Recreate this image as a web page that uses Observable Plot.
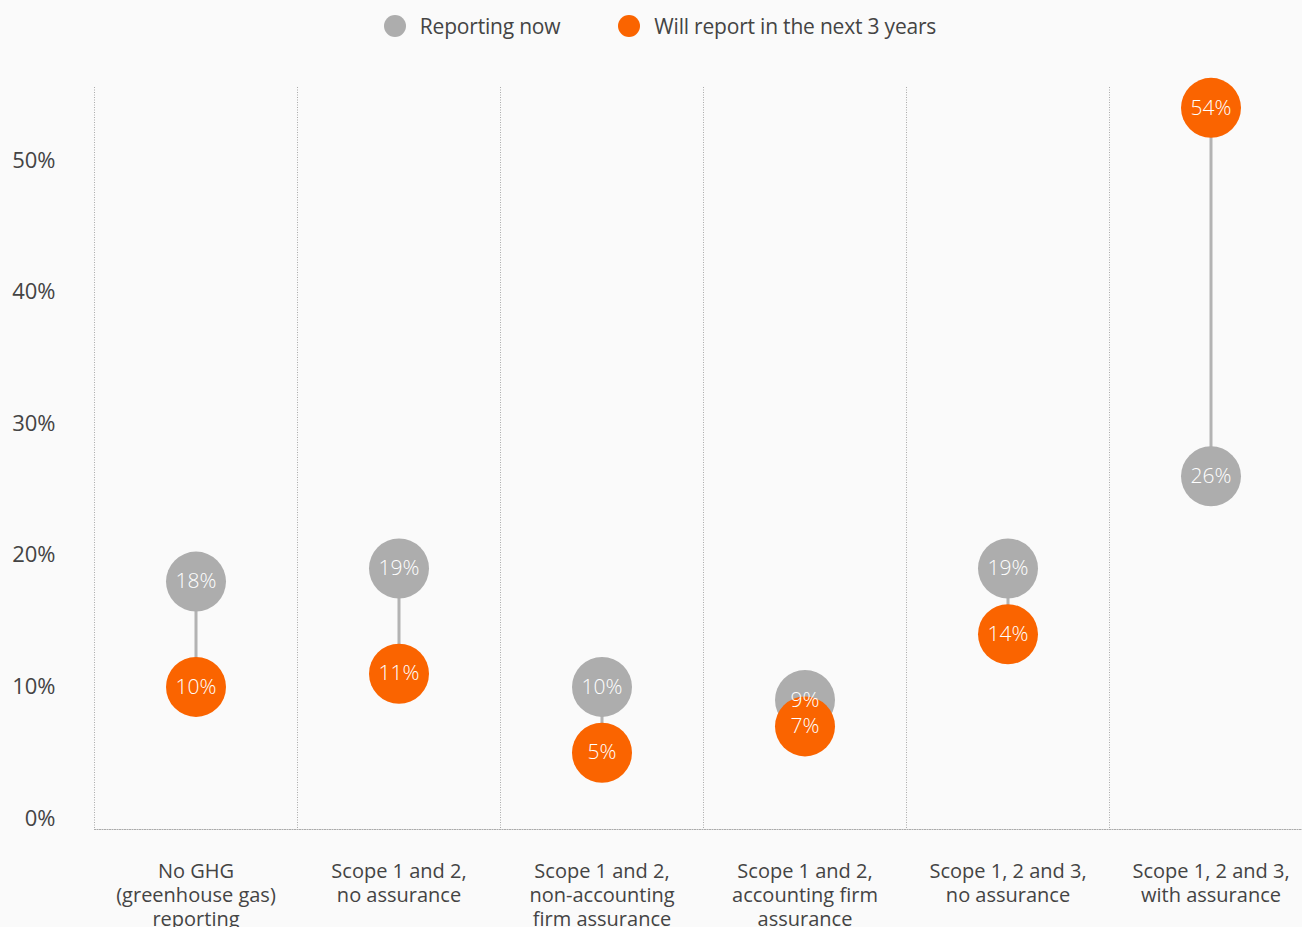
<!DOCTYPE html>
<html>
<head>
<meta charset="utf-8">
<script src="https://cdn.jsdelivr.net/npm/d3@7"></script>
<script src="https://cdn.jsdelivr.net/npm/@observablehq/plot@0.6"></script>
<style>
  html, body { margin: 0; padding: 0; background: #fafafa; }
  body { width: 1302px; height: 927px; overflow: hidden; font-family: "Open Sans", sans-serif; color: #444; }
  #legend { height: 52px; display: flex; align-items: center; justify-content: center; font-size: 21px; padding-left: 18px; letter-spacing: -0.2px; }
  .item { display: flex; align-items: center; margin: 0 29px; }
  .sw { width: 22px; height: 22px; border-radius: 50%; margin-right: 14px; }
  #chart svg { display: block; }
</style>
</head>
<body>
<div id="legend"></div>
<div id="chart"></div>
<script>
const categories = [
  "No GHG\n(greenhouse gas)\nreporting",
  "Scope 1 and 2,\nno assurance",
  "Scope 1 and 2,\nnon-accounting\nfirm assurance",
  "Scope 1 and 2,\naccounting firm\nassurance",
  "Scope 1, 2 and 3,\nno assurance",
  "Scope 1, 2 and 3,\nwith assurance"
];
const reportingNow = [18, 19, 10, 9, 19, 26];
const nextThreeYears = [10, 11, 5, 7, 14, 54];
const yTicks = [0, 10, 20, 30, 40, 50];
const seriesNames = ["Reporting now", "Will report in the next 3 years"];
const seriesColors = ["#adadad", "#fa6400"];

const legend = document.getElementById("legend");
seriesNames.forEach((n, i) => {
  const it = document.createElement("div");
  it.className = "item";
  it.innerHTML = `<span class="sw" style="background:${seriesColors[i]}"></span><span>${n}</span>`;
  legend.appendChild(it);
});

const rows = categories.map((c, i) => ({cat: c, now: reportingNow[i], next: nextThreeYears[i]}));
const width = 1302, height = 875;
const bw = (1312 - 94) / categories.length;

const chart = Plot.plot({
  width, height,
  marginLeft: 94, marginRight: 0, marginTop: 35, marginBottom: 98,
  style: {fontFamily: "Open Sans, sans-serif", fontSize: "20px", color: "#444", background: "#fafafa"},
  x: {type: "band", domain: categories, range: [94, 1312], padding: 0},
  y: {domain: [0, 50], range: [766, 108]},
  marks: [
    Plot.ruleX(categories, {x: d => d, dx: -bw / 2, stroke: "#aaa", strokeWidth: 1, strokeDasharray: "1,1.5"}),
    Plot.frame({anchor: "bottom", stroke: "#aaa", strokeWidth: 1, strokeDasharray: "1,1.5"}),
    Plot.axisY({ticks: yTicks, tickFormat: d => d + "%", tickSize: 0, tickPadding: 39, fontSize: 22, fill: "#444", label: null}),
    Plot.axisX({tickSize: 0, tickPadding: 31, fontSize: 20, fill: "#444", lineHeight: 1.2, label: null}),
    Plot.ruleX(rows, {x: "cat", y1: "now", y2: "next", stroke: "#b3b3b3", strokeWidth: 3}),
    Plot.dot(rows, {x: "cat", y: "now", r: 30, fill: seriesColors[0]}),
    Plot.dot(rows, {x: "cat", y: "next", r: 30, fill: seriesColors[1]}),
    Plot.text(rows, {x: "cat", y: "now", text: d => d.now + "%", fill: "white", fontSize: 21, fontWeight: 300}),
    Plot.text(rows, {x: "cat", y: "next", text: d => d.next + "%", fill: "white", fontSize: 21, fontWeight: 300})
  ]
});
document.getElementById("chart").appendChild(chart);
</script>
</body>
</html>
